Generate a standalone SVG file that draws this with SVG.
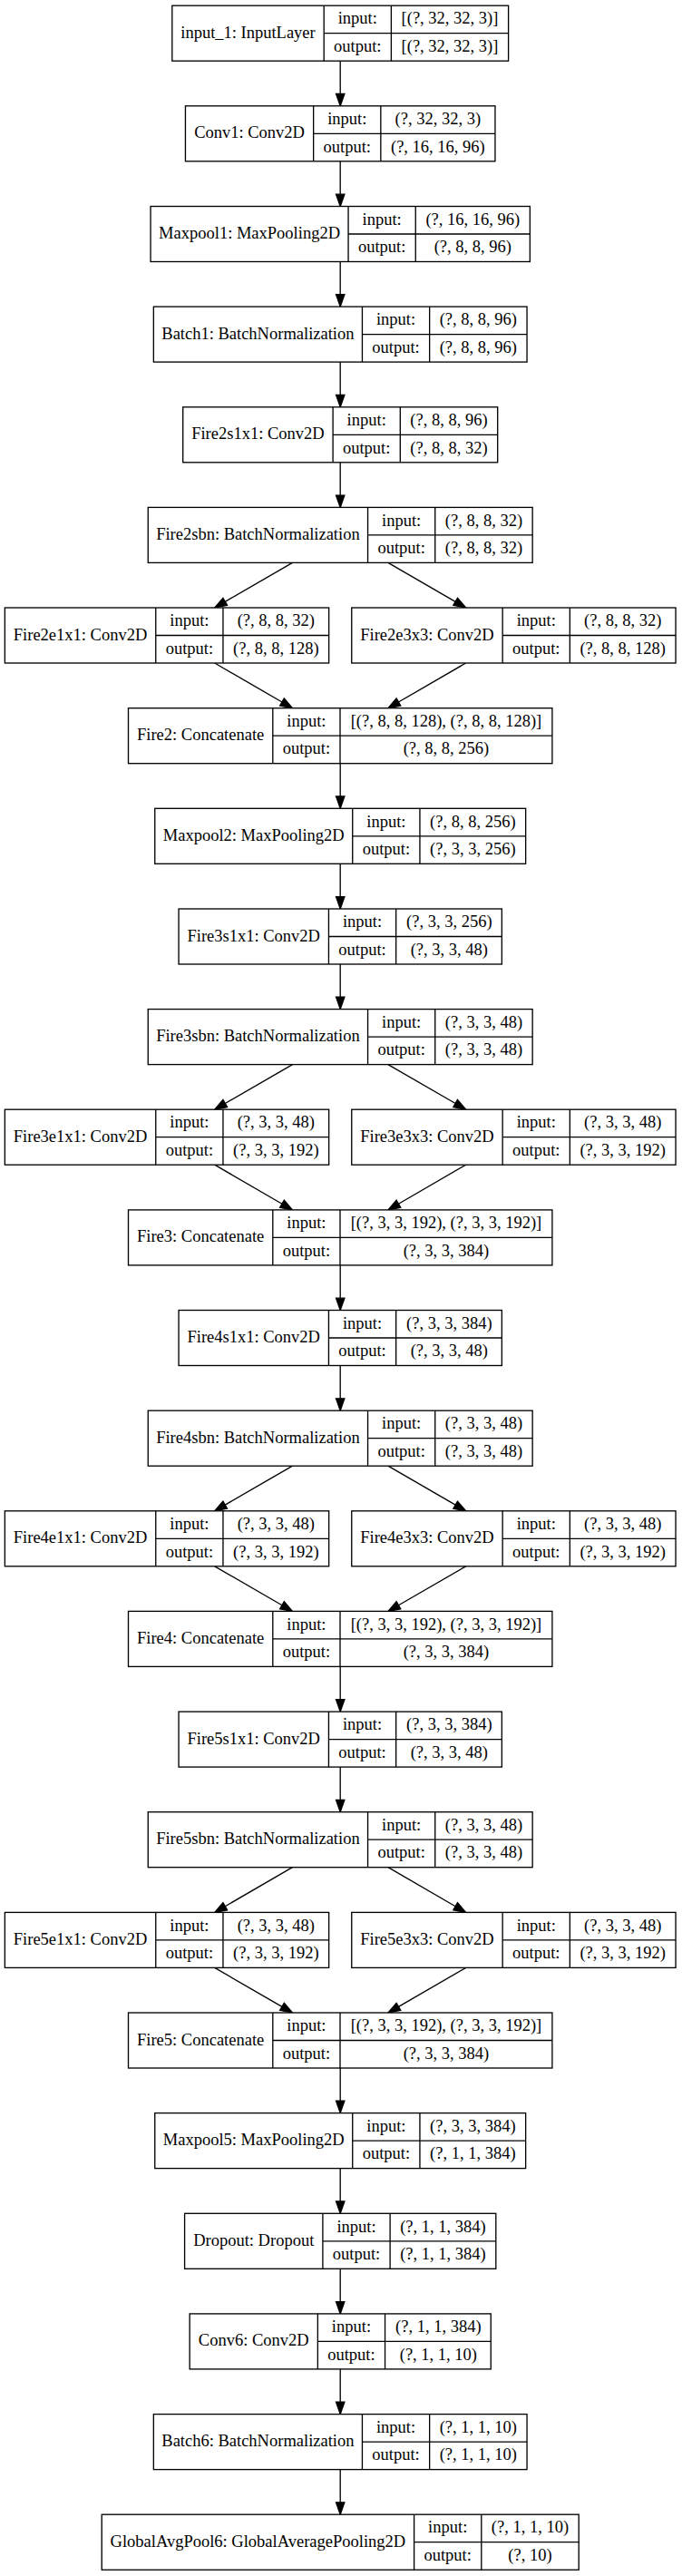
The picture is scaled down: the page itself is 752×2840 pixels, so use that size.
<svg xmlns="http://www.w3.org/2000/svg" width="752" height="2840" viewBox="0 0 752 2840">
<style>
.nd rect{fill:#fff;stroke:#000;stroke-width:1.33}
.nd path{fill:none;stroke:#000;stroke-width:1.33}
.nd text{font-family:"Liberation Serif","Times New Roman",serif;font-size:18.5px;text-anchor:middle;fill:#000}
#edges line{stroke:#000;stroke-width:1.33;marker-end:url(#ah)}
</style>
<defs>
<marker id="ah" markerUnits="userSpaceOnUse" markerWidth="16" markerHeight="12" viewBox="0 -6 16 12" refX="0" refY="0" orient="auto" overflow="visible"><path d="M0,-4.67L13.33,0L0,4.67Z" fill="#000" stroke="#000" stroke-width="1.33"/></marker>
</defs>
<rect width="752" height="2840" fill="#fff"/>
<g id="edges">
<line x1="375.2" y1="67.2" x2="375.2" y2="103.47"/>
<line x1="375.2" y1="177.8" x2="375.2" y2="214.17"/>
<line x1="375.2" y1="288.5" x2="375.2" y2="324.77"/>
<line x1="375.2" y1="399.1" x2="375.2" y2="435.47"/>
<line x1="375.2" y1="509.8" x2="375.2" y2="546.07"/>
<line x1="322.5" y1="620.4" x2="248.25" y2="663.32"/>
<line x1="427.9" y1="620.4" x2="502.15" y2="663.32"/>
<line x1="236.71" y1="731.0" x2="310.95" y2="774.02"/>
<line x1="513.69" y1="731.0" x2="439.45" y2="774.02"/>
<line x1="375.2" y1="841.7" x2="375.2" y2="877.97"/>
<line x1="375.2" y1="952.3" x2="375.2" y2="988.67"/>
<line x1="375.2" y1="1063.0" x2="375.2" y2="1099.27"/>
<line x1="322.5" y1="1173.6" x2="248.25" y2="1216.52"/>
<line x1="427.9" y1="1173.6" x2="502.15" y2="1216.52"/>
<line x1="236.71" y1="1284.2" x2="310.95" y2="1327.22"/>
<line x1="513.69" y1="1284.2" x2="439.45" y2="1327.22"/>
<line x1="375.2" y1="1394.9" x2="375.2" y2="1431.17"/>
<line x1="375.2" y1="1505.5" x2="375.2" y2="1541.87"/>
<line x1="322.5" y1="1616.2" x2="248.25" y2="1659.12"/>
<line x1="427.9" y1="1616.2" x2="502.15" y2="1659.12"/>
<line x1="236.71" y1="1726.8" x2="310.95" y2="1769.72"/>
<line x1="513.69" y1="1726.8" x2="439.45" y2="1769.72"/>
<line x1="375.2" y1="1837.4" x2="375.2" y2="1873.77"/>
<line x1="375.2" y1="1948.1" x2="375.2" y2="1984.37"/>
<line x1="322.5" y1="2058.7" x2="248.25" y2="2101.72"/>
<line x1="427.9" y1="2058.7" x2="502.15" y2="2101.72"/>
<line x1="236.71" y1="2169.4" x2="310.95" y2="2212.32"/>
<line x1="513.69" y1="2169.4" x2="439.45" y2="2212.32"/>
<line x1="375.2" y1="2280.0" x2="375.2" y2="2316.27"/>
<line x1="375.2" y1="2390.6" x2="375.2" y2="2426.97"/>
<line x1="375.2" y1="2501.3" x2="375.2" y2="2537.57"/>
<line x1="375.2" y1="2611.9" x2="375.2" y2="2648.27"/>
<line x1="375.2" y1="2722.6" x2="375.2" y2="2758.87"/>
</g>
<g id="input_1" class="nd" transform="translate(189.8,6.2)"><rect width="370.8" height="61"/><path d="M167.4,0V61M241.6,0V61M167.4,30.5H370.8"/><text x="83.7" y="35.5">input_1: InputLayer</text><text x="204.5" y="20.3">input:</text><text x="204.5" y="50.8">output:</text><text x="306.2" y="20.3">[(?, 32, 32, 3)]</text><text x="306.2" y="50.8">[(?, 32, 32, 3)]</text></g>
<g id="Conv1" class="nd" transform="translate(204.45,116.8)"><rect width="341.5" height="61"/><path d="M141.2,0V61M215.4,0V61M141.2,30.5H341.5"/><text x="70.6" y="35.5">Conv1: Conv2D</text><text x="178.3" y="20.3">input:</text><text x="178.3" y="50.8">output:</text><text x="278.45" y="20.3">(?, 32, 32, 3)</text><text x="278.45" y="50.8">(?, 16, 16, 96)</text></g>
<g id="Maxpool1" class="nd" transform="translate(166.05,227.5)"><rect width="418.3" height="61"/><path d="M218,0V61M292.2,0V61M218,30.5H418.3"/><text x="109" y="35.5">Maxpool1: MaxPooling2D</text><text x="255.1" y="20.3">input:</text><text x="255.1" y="50.8">output:</text><text x="355.25" y="20.3">(?, 16, 16, 96)</text><text x="355.25" y="50.8">(?, 8, 8, 96)</text></g>
<g id="Batch1" class="nd" transform="translate(169.35,338.1)"><rect width="411.7" height="61"/><path d="M230.1,0V61M304.3,0V61M230.1,30.5H411.7"/><text x="115.05" y="35.5">Batch1: BatchNormalization</text><text x="267.2" y="20.3">input:</text><text x="267.2" y="50.8">output:</text><text x="358" y="20.3">(?, 8, 8, 96)</text><text x="358" y="50.8">(?, 8, 8, 96)</text></g>
<g id="Fire2s1x1" class="nd" transform="translate(201.7,448.8)"><rect width="347" height="61"/><path d="M165.4,0V61M239.6,0V61M165.4,30.5H347"/><text x="82.7" y="35.5">Fire2s1x1: Conv2D</text><text x="202.5" y="20.3">input:</text><text x="202.5" y="50.8">output:</text><text x="293.3" y="20.3">(?, 8, 8, 96)</text><text x="293.3" y="50.8">(?, 8, 8, 32)</text></g>
<g id="Fire2sbn" class="nd" transform="translate(163.25,559.4)"><rect width="423.9" height="61"/><path d="M242.3,0V61M316.5,0V61M242.3,30.5H423.9"/><text x="121.15" y="35.5">Fire2sbn: BatchNormalization</text><text x="279.4" y="20.3">input:</text><text x="279.4" y="50.8">output:</text><text x="370.2" y="20.3">(?, 8, 8, 32)</text><text x="370.2" y="50.8">(?, 8, 8, 32)</text></g>
<g id="Fire2e1x1" class="nd" transform="translate(5.35,670)"><rect width="357.3" height="61"/><path d="M166.4,0V61M240.6,0V61M166.4,30.5H357.3"/><text x="83.2" y="35.5">Fire2e1x1: Conv2D</text><text x="203.5" y="20.3">input:</text><text x="203.5" y="50.8">output:</text><text x="298.95" y="20.3">(?, 8, 8, 32)</text><text x="298.95" y="50.8">(?, 8, 8, 128)</text></g>
<g id="Fire2e3x3" class="nd" transform="translate(387.75,670)"><rect width="357.3" height="61"/><path d="M166.4,0V61M240.6,0V61M166.4,30.5H357.3"/><text x="83.2" y="35.5">Fire2e3x3: Conv2D</text><text x="203.5" y="20.3">input:</text><text x="203.5" y="50.8">output:</text><text x="298.95" y="20.3">(?, 8, 8, 32)</text><text x="298.95" y="50.8">(?, 8, 8, 128)</text></g>
<g id="Fire2" class="nd" transform="translate(141.5,780.7)"><rect width="467.4" height="61"/><path d="M159.3,0V61M233.5,0V61M159.3,30.5H467.4"/><text x="79.65" y="35.5">Fire2: Concatenate</text><text x="196.4" y="20.3">input:</text><text x="196.4" y="50.8">output:</text><text x="350.45" y="20.3">[(?, 8, 8, 128), (?, 8, 8, 128)]</text><text x="350.45" y="50.8">(?, 8, 8, 256)</text></g>
<g id="Maxpool2" class="nd" transform="translate(170.75,891.3)"><rect width="408.9" height="61"/><path d="M218,0V61M292.2,0V61M218,30.5H408.9"/><text x="109" y="35.5">Maxpool2: MaxPooling2D</text><text x="255.1" y="20.3">input:</text><text x="255.1" y="50.8">output:</text><text x="350.55" y="20.3">(?, 8, 8, 256)</text><text x="350.55" y="50.8">(?, 3, 3, 256)</text></g>
<g id="Fire3s1x1" class="nd" transform="translate(197.05,1002)"><rect width="356.3" height="61"/><path d="M165.4,0V61M239.6,0V61M165.4,30.5H356.3"/><text x="82.7" y="35.5">Fire3s1x1: Conv2D</text><text x="202.5" y="20.3">input:</text><text x="202.5" y="50.8">output:</text><text x="298.3" y="20.3">(?, 3, 3, 256)</text><text x="298.3" y="50.8">(?, 3, 3, 48)</text></g>
<g id="Fire3sbn" class="nd" transform="translate(163.25,1112.6)"><rect width="423.9" height="61"/><path d="M242.3,0V61M316.5,0V61M242.3,30.5H423.9"/><text x="121.15" y="35.5">Fire3sbn: BatchNormalization</text><text x="279.4" y="20.3">input:</text><text x="279.4" y="50.8">output:</text><text x="370.2" y="20.3">(?, 3, 3, 48)</text><text x="370.2" y="50.8">(?, 3, 3, 48)</text></g>
<g id="Fire3e1x1" class="nd" transform="translate(5.35,1223.2)"><rect width="357.3" height="61"/><path d="M166.4,0V61M240.6,0V61M166.4,30.5H357.3"/><text x="83.2" y="35.5">Fire3e1x1: Conv2D</text><text x="203.5" y="20.3">input:</text><text x="203.5" y="50.8">output:</text><text x="298.95" y="20.3">(?, 3, 3, 48)</text><text x="298.95" y="50.8">(?, 3, 3, 192)</text></g>
<g id="Fire3e3x3" class="nd" transform="translate(387.75,1223.2)"><rect width="357.3" height="61"/><path d="M166.4,0V61M240.6,0V61M166.4,30.5H357.3"/><text x="83.2" y="35.5">Fire3e3x3: Conv2D</text><text x="203.5" y="20.3">input:</text><text x="203.5" y="50.8">output:</text><text x="298.95" y="20.3">(?, 3, 3, 48)</text><text x="298.95" y="50.8">(?, 3, 3, 192)</text></g>
<g id="Fire3" class="nd" transform="translate(141.5,1333.9)"><rect width="467.4" height="61"/><path d="M159.3,0V61M233.5,0V61M159.3,30.5H467.4"/><text x="79.65" y="35.5">Fire3: Concatenate</text><text x="196.4" y="20.3">input:</text><text x="196.4" y="50.8">output:</text><text x="350.45" y="20.3">[(?, 3, 3, 192), (?, 3, 3, 192)]</text><text x="350.45" y="50.8">(?, 3, 3, 384)</text></g>
<g id="Fire4s1x1" class="nd" transform="translate(197.05,1444.5)"><rect width="356.3" height="61"/><path d="M165.4,0V61M239.6,0V61M165.4,30.5H356.3"/><text x="82.7" y="35.5">Fire4s1x1: Conv2D</text><text x="202.5" y="20.3">input:</text><text x="202.5" y="50.8">output:</text><text x="298.3" y="20.3">(?, 3, 3, 384)</text><text x="298.3" y="50.8">(?, 3, 3, 48)</text></g>
<g id="Fire4sbn" class="nd" transform="translate(163.25,1555.2)"><rect width="423.9" height="61"/><path d="M242.3,0V61M316.5,0V61M242.3,30.5H423.9"/><text x="121.15" y="35.5">Fire4sbn: BatchNormalization</text><text x="279.4" y="20.3">input:</text><text x="279.4" y="50.8">output:</text><text x="370.2" y="20.3">(?, 3, 3, 48)</text><text x="370.2" y="50.8">(?, 3, 3, 48)</text></g>
<g id="Fire4e1x1" class="nd" transform="translate(5.35,1665.8)"><rect width="357.3" height="61"/><path d="M166.4,0V61M240.6,0V61M166.4,30.5H357.3"/><text x="83.2" y="35.5">Fire4e1x1: Conv2D</text><text x="203.5" y="20.3">input:</text><text x="203.5" y="50.8">output:</text><text x="298.95" y="20.3">(?, 3, 3, 48)</text><text x="298.95" y="50.8">(?, 3, 3, 192)</text></g>
<g id="Fire4e3x3" class="nd" transform="translate(387.75,1665.8)"><rect width="357.3" height="61"/><path d="M166.4,0V61M240.6,0V61M166.4,30.5H357.3"/><text x="83.2" y="35.5">Fire4e3x3: Conv2D</text><text x="203.5" y="20.3">input:</text><text x="203.5" y="50.8">output:</text><text x="298.95" y="20.3">(?, 3, 3, 48)</text><text x="298.95" y="50.8">(?, 3, 3, 192)</text></g>
<g id="Fire4" class="nd" transform="translate(141.5,1776.4)"><rect width="467.4" height="61"/><path d="M159.3,0V61M233.5,0V61M159.3,30.5H467.4"/><text x="79.65" y="35.5">Fire4: Concatenate</text><text x="196.4" y="20.3">input:</text><text x="196.4" y="50.8">output:</text><text x="350.45" y="20.3">[(?, 3, 3, 192), (?, 3, 3, 192)]</text><text x="350.45" y="50.8">(?, 3, 3, 384)</text></g>
<g id="Fire5s1x1" class="nd" transform="translate(197.05,1887.1)"><rect width="356.3" height="61"/><path d="M165.4,0V61M239.6,0V61M165.4,30.5H356.3"/><text x="82.7" y="35.5">Fire5s1x1: Conv2D</text><text x="202.5" y="20.3">input:</text><text x="202.5" y="50.8">output:</text><text x="298.3" y="20.3">(?, 3, 3, 384)</text><text x="298.3" y="50.8">(?, 3, 3, 48)</text></g>
<g id="Fire5sbn" class="nd" transform="translate(163.25,1997.7)"><rect width="423.9" height="61"/><path d="M242.3,0V61M316.5,0V61M242.3,30.5H423.9"/><text x="121.15" y="35.5">Fire5sbn: BatchNormalization</text><text x="279.4" y="20.3">input:</text><text x="279.4" y="50.8">output:</text><text x="370.2" y="20.3">(?, 3, 3, 48)</text><text x="370.2" y="50.8">(?, 3, 3, 48)</text></g>
<g id="Fire5e1x1" class="nd" transform="translate(5.35,2108.4)"><rect width="357.3" height="61"/><path d="M166.4,0V61M240.6,0V61M166.4,30.5H357.3"/><text x="83.2" y="35.5">Fire5e1x1: Conv2D</text><text x="203.5" y="20.3">input:</text><text x="203.5" y="50.8">output:</text><text x="298.95" y="20.3">(?, 3, 3, 48)</text><text x="298.95" y="50.8">(?, 3, 3, 192)</text></g>
<g id="Fire5e3x3" class="nd" transform="translate(387.75,2108.4)"><rect width="357.3" height="61"/><path d="M166.4,0V61M240.6,0V61M166.4,30.5H357.3"/><text x="83.2" y="35.5">Fire5e3x3: Conv2D</text><text x="203.5" y="20.3">input:</text><text x="203.5" y="50.8">output:</text><text x="298.95" y="20.3">(?, 3, 3, 48)</text><text x="298.95" y="50.8">(?, 3, 3, 192)</text></g>
<g id="Fire5" class="nd" transform="translate(141.5,2219)"><rect width="467.4" height="61"/><path d="M159.3,0V61M233.5,0V61M159.3,30.5H467.4"/><text x="79.65" y="35.5">Fire5: Concatenate</text><text x="196.4" y="20.3">input:</text><text x="196.4" y="50.8">output:</text><text x="350.45" y="20.3">[(?, 3, 3, 192), (?, 3, 3, 192)]</text><text x="350.45" y="50.8">(?, 3, 3, 384)</text></g>
<g id="Maxpool5" class="nd" transform="translate(170.75,2329.6)"><rect width="408.9" height="61"/><path d="M218,0V61M292.2,0V61M218,30.5H408.9"/><text x="109" y="35.5">Maxpool5: MaxPooling2D</text><text x="255.1" y="20.3">input:</text><text x="255.1" y="50.8">output:</text><text x="350.55" y="20.3">(?, 3, 3, 384)</text><text x="350.55" y="50.8">(?, 1, 1, 384)</text></g>
<g id="Dropout" class="nd" transform="translate(203.6,2440.3)"><rect width="343.2" height="61"/><path d="M152.3,0V61M226.5,0V61M152.3,30.5H343.2"/><text x="76.15" y="35.5">Dropout: Dropout</text><text x="189.4" y="20.3">input:</text><text x="189.4" y="50.8">output:</text><text x="284.85" y="20.3">(?, 1, 1, 384)</text><text x="284.85" y="50.8">(?, 1, 1, 384)</text></g>
<g id="Conv6" class="nd" transform="translate(209.15,2550.9)"><rect width="332.1" height="61"/><path d="M141.2,0V61M215.4,0V61M141.2,30.5H332.1"/><text x="70.6" y="35.5">Conv6: Conv2D</text><text x="178.3" y="20.3">input:</text><text x="178.3" y="50.8">output:</text><text x="274.25" y="20.3">(?, 1, 1, 384)</text><text x="274.25" y="50.8">(?, 1, 1, 10)</text></g>
<g id="Batch6" class="nd" transform="translate(169.35,2661.6)"><rect width="411.7" height="61"/><path d="M230.1,0V61M304.3,0V61M230.1,30.5H411.7"/><text x="115.05" y="35.5">Batch6: BatchNormalization</text><text x="267.2" y="20.3">input:</text><text x="267.2" y="50.8">output:</text><text x="358" y="20.3">(?, 1, 1, 10)</text><text x="358" y="50.8">(?, 1, 1, 10)</text></g>
<g id="GlobalAvgPool6" class="nd" transform="translate(112.2,2772.2)"><rect width="526" height="61"/><path d="M344.4,0V61M418.6,0V61M344.4,30.5H526"/><text x="172.2" y="35.5">GlobalAvgPool6: GlobalAveragePooling2D</text><text x="381.5" y="20.3">input:</text><text x="381.5" y="50.8">output:</text><text x="472.3" y="20.3">(?, 1, 1, 10)</text><text x="472.3" y="50.8">(?, 10)</text></g>
</svg>
